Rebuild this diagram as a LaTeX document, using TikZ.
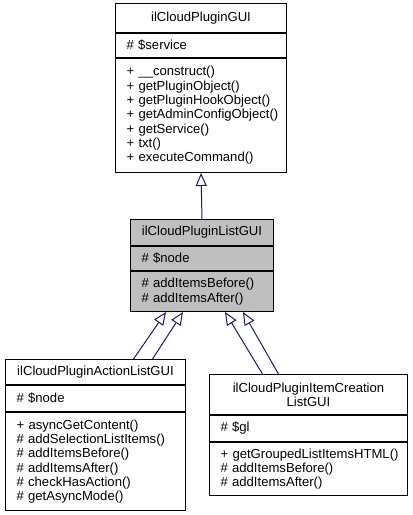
\documentclass[tikz,border=0pt]{standalone}
\usepackage{fontspec}
\setmainfont{Liberation Sans}
\usepackage{tikz}
\usetikzlibrary{
  arrows.meta,%
  positioning,%
  calc
}
\definecolor{edgeblue}{HTML}{191970}
\definecolor{curgray}{HTML}{BFBFBF}
\tikzset{>={Triangle[open,length=13pt,width=11pt]}}
\tikzset{font=\fontsize{13.1}{14.3}\selectfont}
\tikzset{
  part/.style={draw=black, line width=1pt, anchor=north west,
    inner ysep=0pt},
  parttitle/.style 2 args={part, align=center, minimum width=#1,
    minimum height=#2, inner xsep=0pt},
  % list width is given without the 2x11pt margins
  partlist/.style 2 args={part, align=left, text width=#1,
    minimum height=#2, inner xsep=11pt},
  inherit/.style={->, draw=edgeblue, line width=1pt}
}

\begin{document}
\hyphenpenalty=10000
\begin{tikzpicture}[x=1pt, y=-1pt]
  \useasboundingbox (0,0) rectangle (413,515); %
  % base class
  \node[parttitle={171}{29}] (gui) at (115,3) {ilCloudPluginGUI}; %
  \node[partlist={149}{24}] (guiattr) at (gui.south west) {\#~\$service}; %
  \node[partlist={149}{114}] (guimeth) at (guiattr.south west)
    {+~\_\_construct()\\+~getPluginObject()\\+~getPluginHookObject()\\
     +~getAdminConfigObject()\\+~getService()\\+~txt()\\+~executeCommand()}; %
  % current class
  \begin{scope}[every node/.append style={fill=curgray}]
    \node[parttitle={143}{26}] (list) at (130,219) {ilCloudPluginListGUI}; %
    \node[partlist={121}{24}] (listattr) at (list.south west) {\#~\$node}; %
    \node[partlist={121}{40}] (listmeth) at (listattr.south west)
      {\#~addItemsBefore()\\\#~addItemsAfter()}; %
  \end{scope}
  % derived classes
  \node[parttitle={180}{25}] (act) at (5,359) {ilCloudPluginActionListGUI}; %
  \node[partlist={158}{26}] (actattr) at (act.south west) {\#~\$node}; %
  \node[partlist={158}{98}] (actmeth) at (actattr.south west)
    {+~asyncGetContent()\\\#~addSelectionListItems()\\\#~addItemsBefore()\\
     \#~addItemsAfter()\\\#~checkHasAction()\\\#~getAsyncMode()}; %
  \node[parttitle={198}{40}] (item) at (209,374)
    {ilCloudPluginItemCreation\\ListGUI}; %
  \node[partlist={176}{26}] (itemattr) at (item.south west) {\#~\$gl}; %
  \node[partlist={176}{53}] (itemmeth) at (itemattr.south west)
    {+~getGroupedListItemsHTML()\\\#~addItemsBefore()\\\#~addItemsAfter()}; %
  % inheritance
  \draw[inherit] (list.north) -- (guimeth.south); %
  \draw[inherit] ([xshift=38pt]act.north) -- ([xshift=-36pt]listmeth.south); %
  \draw[inherit] ([xshift=57pt]act.north) -- ([xshift=-19pt]listmeth.south); %
  \draw[inherit] ([xshift=-46pt]item.north) -- ([xshift=23pt]listmeth.south); %
  \draw[inherit] ([xshift=-30pt]item.north) -- ([xshift=41pt]listmeth.south); %
\end{tikzpicture}
\end{document}
